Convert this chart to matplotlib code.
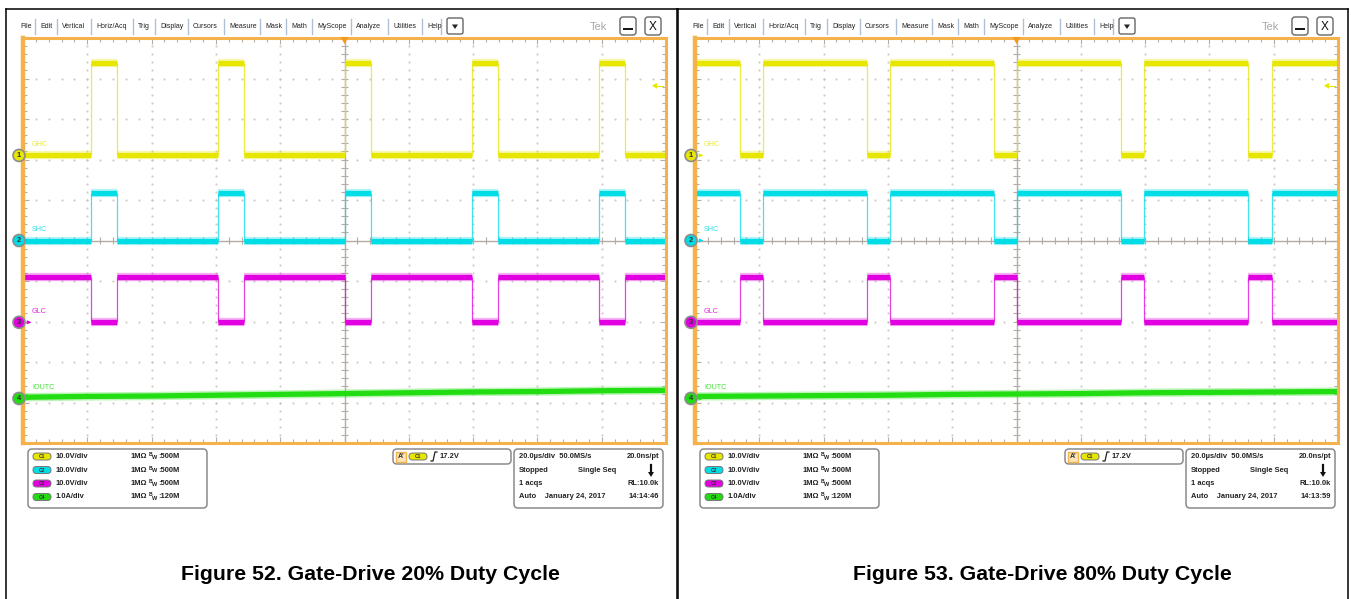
import matplotlib
matplotlib.use('Agg')
import matplotlib.pyplot as plt
from matplotlib.patches import FancyBboxPatch, Circle, Rectangle, Polygon

plt.rcParams['font.family'] = ['Liberation Sans', 'DejaVu Sans']

# ---------------- data ----------------
channels = ['GHC', 'SHC', 'GLC', 'IOUTC']
ch_scale = [10.0, 10.0, 10.0, 1.0]            # units per division
ch_scale_text = ['10.0V/div', '10.0V/div', '10.0V/div', '1.0A/div']
ch_bw = ['500M', '500M', '500M', '120M']
ch_offset_div = [2.1, 0.0, -2.02, -3.9]        # ground-marker position (div)

ghc_levels = [0.0, 22.8]    # V low, high
shc_levels = [0.0, 11.7]
glc_levels = [0.0, 11.3]

fig52_rise = [1.06, 3.04, 5.00, 6.98, 8.96]    # time (div) of GHC rising edges
fig52_fall = [1.46, 3.44, 5.41, 7.38, 9.37]
fig53_fall = [0.70, 2.67, 4.65, 6.63, 8.60]
fig53_rise = [1.06, 3.04, 5.00, 6.99, 8.97]

iout_t = [0, 1, 2, 3, 4, 5, 6, 7, 8, 9, 10]
fig52_iout = [0.03, 0.05, 0.06, 0.08, 0.10, 0.12, 0.14, 0.16, 0.17, 0.19, 0.20]
fig53_iout = [0.05, 0.06, 0.07, 0.08, 0.10, 0.11, 0.12, 0.14, 0.15, 0.16, 0.17]

trigger_level = 17.2
timestamps = ['14:14:46', '14:13:59']
captions = ['Figure 52. Gate-Drive 20% Duty Cycle', 'Figure 53. Gate-Drive 80% Duty Cycle']
menu_items = ['File', 'Edit', 'Vertical', 'Horiz/Acq', 'Trig', 'Display', 'Cursors',
              'Measure', 'Mask', 'Math', 'MyScope', 'Analyze', 'Utilities', 'Help']

# ---------------- style ----------------
W, H = 1351, 599
fig = plt.figure(figsize=(W / 100, H / 100), dpi=100)
YEL, CYA, MAG, GRN = '#E6E600', '#00DDE6', '#E000E0', '#22DD11'
ch_colors = [YEL, CYA, MAG, GRN]
ORANGE = '#F6B24A'
GRIDC = '#B5ADA5'
DOTC = '#C9C3BD'
menu_x = [20, 40, 62, 96, 138, 160, 193, 229, 265, 291, 317, 356, 393, 427]

ov = fig.add_axes([0, 0, 1, 1])
ov.set_xlim(0, W)
ov.set_ylim(H, 0)
ov.axis('off')
ov.set_zorder(5)
ov.patch.set_alpha(0)

FX0, FX1, FY0, FY1 = 23, 666, 38, 443
PXD = (FX1 - FX0) / 10.0
PYD = (FY1 - FY0) / 10.0
YC = (FY0 + FY1) / 2.0


def segments(rise, fall, start_high):
    edges = sorted([(t, 1) for t in rise] + [(t, 0) for t in fall])
    segs, t0, state = [], 0.0, start_high
    for t, s in edges:
        segs.append((t0, t, state))
        t0, state = t, s
    segs.append((t0, 10.0, state))
    return segs, [t for t, _ in edges]


def draw_trace(ax, segs, edges, lo, hi, color, invert=False):
    for a, b, s in segs:
        st = (not s) if invert else s
        y = hi if st else lo
        ax.hlines(y, a, b, color=color, lw=6.0, alpha=0.3)
        ax.hlines(y, a, b, color=color, lw=3.8)
    for t in edges:
        ax.vlines(t, lo, hi, color=color, lw=0.9, alpha=0.75)


def rbox(x0, y0, x1, y1, ec='#8A8A8A', fc='white', r=4, lw=1.1, z=1):
    p = FancyBboxPatch((x0, y0), x1 - x0, y1 - y0,
                       boxstyle=f'round,pad=0,rounding_size={r}',
                       ec=ec, fc=fc, lw=lw, zorder=z)
    ov.add_patch(p)


def pill(x, y, color, label):
    p = FancyBboxPatch((x, y - 3.5), 18, 7, boxstyle='round,pad=0,rounding_size=3.5',
                       ec='#777777', fc=color, lw=0.7, zorder=3)
    ov.add_patch(p)
    ov.text(x + 9, y + 0.3, label, fontsize=3.6, ha='center', va='center',
            color='#333333', zorder=4, fontweight='bold')


for p, (rise, fall, start_high, iout, ts, cap) in enumerate([
        (fig52_rise, fig52_fall, 0, fig52_iout, timestamps[0], captions[0]),
        (fig53_rise, fig53_fall, 1, fig53_iout, timestamps[1], captions[1])]):
    dx = 672 * p
    # graticule axes
    g = fig.add_axes([(FX0 + dx) / W, 1 - FY1 / H, (FX1 - FX0) / W, (FY1 - FY0) / H])
    g.set_xlim(0, 10)
    g.set_ylim(-5, 5)
    g.axis('off')
    # dotted grid
    for xv in range(1, 10):
        if xv == 5:
            continue
        g.plot([xv] * 51, [-5 + 0.2 * i for i in range(51)], ls='none', marker='.',
               ms=1.0, color=DOTC)
    for yv in range(-4, 5):
        if yv == 0:
            continue
        g.plot([0.2 * i for i in range(51)], [yv] * 51, ls='none', marker='.',
               ms=1.0, color=DOTC)
    g.axhline(0, color=GRIDC, lw=1)
    g.axvline(5, color=GRIDC, lw=1)
    tx = 4 / PXD
    ty = 4 / PYD
    for i in range(51):
        xv = i * 0.2
        big = (i % 5 == 0)
        g.vlines(xv, -5, -5 + ty * (1.6 if big else 1), color=GRIDC, lw=0.8)
        g.vlines(xv, 5 - ty * (1.6 if big else 1), 5, color=GRIDC, lw=0.8)
        g.vlines(xv, -ty * 0.8, ty * 0.8, color=GRIDC, lw=0.8)
    for i in range(51):
        yv = -5 + i * 0.2
        big = (i % 5 == 0)
        g.hlines(yv, 0, tx * (1.6 if big else 1), color=GRIDC, lw=0.8)
        g.hlines(yv, 10 - tx * (1.6 if big else 1), 10, color=GRIDC, lw=0.8)
        g.hlines(yv, 5 - tx * 0.8, 5 + tx * 0.8, color=GRIDC, lw=0.8)

    segs, edges = segments(rise, fall, start_high)
    offs = ch_offset_div
    lv = [ghc_levels, shc_levels, glc_levels]
    for c in range(3):
        lo = offs[c] + lv[c][0] / ch_scale[c]
        hi = offs[c] + lv[c][1] / ch_scale[c]
        draw_trace(g, segs, edges, lo, hi, ch_colors[c], invert=(c == 2))
    yi = [offs[3] + v / ch_scale[3] for v in iout]
    g.plot(iout_t, yi, color=GRN, lw=6.0, alpha=0.3, solid_capstyle='butt')
    g.plot(iout_t, yi, color=GRN, lw=3.8, solid_capstyle='butt')

    # orange frame
    ov.add_patch(Rectangle((FX0 + dx, FY0), FX1 - FX0, FY1 - FY0, fill=False,
                           ec=ORANGE, lw=2.2, zorder=2))
    ov.plot([FX0 + dx, FX0 + dx], [FY0, FY1], color=ORANGE, lw=3.2, zorder=2)
    # trigger position marker
    xc = FX0 + dx + 5 * PXD
    ov.add_patch(Polygon([[xc - 4, FY0 - 1], [xc + 4, FY0 - 1], [xc, FY0 + 6]],
                         closed=True, fc='#F39A1E', ec='none', zorder=6))
    # trigger level arrow
    ty_px = YC - (offs[0] + trigger_level / ch_scale[0]) * PYD
    ov.add_patch(Polygon([[FX1 + dx - 14, ty_px], [FX1 + dx - 9, ty_px - 3], [FX1 + dx - 9, ty_px + 3]],
                         closed=True, fc=YEL, ec='none', zorder=6))
    ov.plot([FX1 + dx - 9, FX1 + dx - 3], [ty_px, ty_px], color=YEL, lw=0.8, zorder=6)

    # channel markers & labels
    for c in range(4):
        my = YC - offs[c] * PYD
        ov.add_patch(Circle((FX0 + dx - 4, my), 6, fc=ch_colors[c], ec='#8C8C8C',
                            lw=1.2, zorder=7))
        ov.text(FX0 + dx - 4, my + 0.5, str(c + 1), fontsize=5.5, ha='center', va='center',
                color='#333333', fontweight='bold', zorder=8)
        ov.annotate('', xy=(FX0 + dx + 11, my), xytext=(FX0 + dx + 3, my),
                    arrowprops=dict(arrowstyle='-|>', color=ch_colors[c], lw=0.8,
                                    mutation_scale=5), zorder=8)
        ov.text(FX0 + dx + 9, my - 11, channels[c], fontsize=5.2, ha='left', va='center',
                color=ch_colors[c], alpha=0.85, zorder=8)

    # black panel border
    ov.plot([6 + dx, 6 + dx], [9, H], color='black', lw=1.1)
    ov.plot([6 + dx, 677 + dx - (1 if p else 0)], [9, 9], color='black', lw=1.1)
    ov.plot([677 + dx - (1 if p else 0)] * 2, [9, H], color='black', lw=1.1)

    # menu bar
    for i, (it, mx) in enumerate(zip(menu_items, menu_x)):
        ov.text(mx + dx, 26.5, it, fontsize=5.0, ha='left', va='center', color='#222222')
        sx = (menu_x[i + 1] if i + 1 < len(menu_x) else 446) - 5 + dx
        ov.plot([sx, sx], [18.5, 34], color='#AFC0D6', lw=1.0)
    rbox(447 + dx, 18, 463 + dx, 34, ec='#555555', r=2, lw=0.9)
    ov.add_patch(Polygon([[452 + dx, 24.5], [458 + dx, 24.5], [455 + dx, 29]], closed=True,
                         fc='#222222', ec='none', zorder=3))
    ov.text(590 + dx, 26.5, 'Tek', fontsize=8, ha='left', va='center', color='#A8A8A8')
    rbox(620 + dx, 17, 636 + dx, 35, ec='#666666', r=3, lw=1.0)
    ov.plot([624 + dx, 632 + dx], [28.5, 28.5], color='#111111', lw=1.4, zorder=3)
    rbox(645 + dx, 17, 661 + dx, 35, ec='#666666', r=3, lw=1.0)
    ov.text(653 + dx, 26.5, 'X', fontsize=8.5, ha='center', va='center', color='#111111', zorder=3)

    # vertical settings box
    rbox(28 + dx, 449, 207 + dx, 508)
    rows_y = [456.5, 470, 483.5, 497]
    for c in range(4):
        pill(33 + dx, rows_y[c], ch_colors[c], f'C{c + 1}')
        ov.text(56 + dx, rows_y[c], ch_scale_text[c], fontsize=5.4, fontweight='bold',
                ha='left', va='center', color='#222222')
        ov.text(131 + dx, rows_y[c], '1MΩ', fontsize=5.4, fontweight='bold',
                ha='left', va='center', color='#222222')
        ov.text(149 + dx, rows_y[c] - 2, 'B', fontsize=3.6, fontweight='bold',
                ha='left', va='center', color='#222222')
        ov.text(152 + dx, rows_y[c] + 1, 'W', fontsize=4.0, fontweight='bold',
                ha='left', va='center', color='#222222')
        ov.text(158 + dx, rows_y[c], ':' + ch_bw[c], fontsize=5.4, fontweight='bold',
                ha='left', va='center', color='#222222')

    # trigger box
    rbox(393 + dx, 449, 511 + dx, 464)
    ov.add_patch(Rectangle((396 + dx, 451.5), 10, 10, fc='#FBE3B8', ec=ORANGE, lw=1, zorder=3))
    ov.text(401 + dx, 456.8, "A'", fontsize=5.0, fontweight='bold', ha='center', va='center',
            color='#333333', zorder=4)
    pill(409 + dx, 456.5, YEL, 'C1')
    ov.plot([431 + dx, 433 + dx, 435 + dx, 437 + dx], [461, 461, 452, 452], color='#222222', lw=0.9)
    ov.text(440 + dx, 456.5, f'{trigger_level:.1f}V', fontsize=5.4, ha='left', va='center',
            color='#222222', fontweight='bold')

    # horizontal box
    rbox(514 + dx, 449, 663 + dx, 508)
    hk = dict(fontsize=5.4, fontweight='bold', va='center', color='#222222')
    ov.text(519 + dx, rows_y[0], '20.0µs/div  50.0MS/s', ha='left', **hk)
    ov.text(659 + dx, rows_y[0], '20.0ns/pt', ha='right', **hk)
    ov.text(519 + dx, rows_y[1], 'Stopped', ha='left', **hk)
    ov.text(578 + dx, rows_y[1], 'Single Seq', ha='left', **hk)
    ov.plot([651 + dx, 651 + dx], [465, 473], color='#111111', lw=1.6)
    ov.add_patch(Polygon([[648 + dx, 472], [654 + dx, 472], [651 + dx, 477]], closed=True,
                         fc='#111111', ec='none'))
    ov.text(519 + dx, rows_y[2], '1 acqs', ha='left', **hk)
    ov.text(659 + dx, rows_y[2], 'RL:10.0k', ha='right', **hk)
    ov.text(519 + dx, rows_y[3], 'Auto    January 24, 2017', ha='left', **hk)
    ov.text(659 + dx, rows_y[3], ts, ha='right', **hk)

    # caption
    ov.text(370 + dx, 574, cap, fontsize=15.3, fontweight='bold', ha='center', va='center',
            color='black')

fig.savefig('out.png', dpi=100, facecolor='white')
